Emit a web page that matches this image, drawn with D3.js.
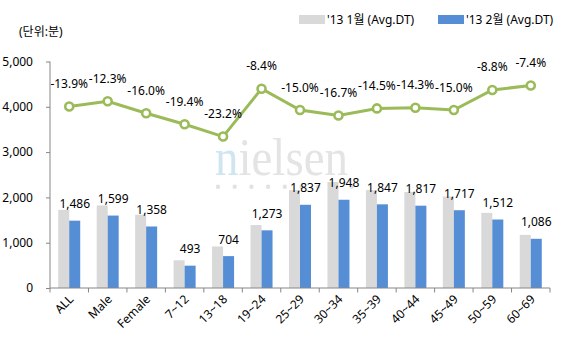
<!DOCTYPE html>
<html><head><meta charset="utf-8">
<script src="https://cdn.jsdelivr.net/npm/d3@7/dist/d3.min.js"></script>
<style>
body{margin:0;background:#fff;}
text{font-family:"Noto Sans","Noto Sans CJK KR",sans-serif;}
</style></head>
<body>
<svg id="c" width="561" height="352"></svg>
<script>
const categories = ["ALL","Male","Female","7~12","13~18","19~24","25~29","30~34","35~39","40~44","45~49","50~59","60~69"];
const jan = [1726,1823,1617,612,917,1390,2161,2339,2160,2120,2020,1658,1173];
const feb = [1486,1599,1358,493,704,1273,1837,1948,1847,1817,1717,1512,1086];
const pct = [-13.9,-12.3,-16.0,-19.4,-23.2,-8.4,-15.0,-16.7,-14.5,-14.3,-15.0,-8.8,-7.4];
const yTicks = [0,1000,2000,3000,4000,5000];
const seriesNames = ["'13 1월 (Avg.DT)","'13 2월 (Avg.DT)"];
const unitLabel = "(단위:분)";

const svg = d3.select("#c");
const x = d3.scaleBand().domain(categories).range([50,550]).padding(0);
const y = d3.scaleLinear().domain([0,5000]).range([288,61.5]);
const y2 = d3.scaleLinear().domain([-70,0]).range([288,61.5]);
const bw = 11;
const axisCol = "#868686";
const pctFmt = v => (v<0?"-":"") + d3.format(".1f")(Math.abs(v)) + "%";

// watermark
const wm = svg.append("g");
wm.append("text").attr("x",215).attr("y",175).attr("font-size",52)
  .style("font-family","'Liberation Serif','DejaVu Serif',serif")
  .attr("textLength",133).attr("lengthAdjust","spacingAndGlyphs")
  .html('<tspan fill="#cfe6f2">n</tspan><tspan fill="#e4e4e4">ielsen</tspan>');
wm.selectAll("circle").data(d3.range(9)).join("circle")
  .attr("cx",d=>218+d*16.7).attr("cy",186.7).attr("r",2.2).attr("fill","#e2e2e2");

// bars
svg.append("g").selectAll("rect").data(categories).join("rect")
  .attr("x",d=>x(d)+x.bandwidth()/2-bw).attr("width",bw)
  .attr("y",(d,i)=>y(jan[i])).attr("height",(d,i)=>y(0)-y(jan[i]))
  .attr("fill","#d9d9d9");
svg.append("g").selectAll("rect").data(categories).join("rect")
  .attr("x",d=>x(d)+x.bandwidth()/2).attr("width",bw)
  .attr("y",(d,i)=>y(feb[i])).attr("height",(d,i)=>y(0)-y(feb[i]))
  .attr("fill","#558ed5");

// bar labels
svg.append("g").selectAll("text").data(categories).join("text")
  .attr("x",d=>x(d)+x.bandwidth()/2+bw/2).attr("y",(d,i)=>y(feb[i])-12.5)
  .attr("text-anchor","middle").attr("font-size",12).attr("fill","#000")
  .text((d,i)=>d3.format(",")(feb[i]));

// y axis
const ya = svg.append("g").attr("transform","translate(50,0)")
  .call(d3.axisLeft(y).tickValues(yTicks).tickFormat(d3.format(",")).tickSize(4).tickPadding(13));
ya.select(".domain").attr("stroke",axisCol).attr("d","M0,61.5V288");
ya.selectAll(".tick line").attr("stroke",axisCol);
ya.selectAll(".tick text").attr("font-size",12).attr("fill","#000").style("font-family",'"Noto Sans",sans-serif');

// x axis
const xa = svg.append("g");
xa.append("line").attr("x1",50).attr("x2",550).attr("y1",288).attr("y2",288).attr("stroke",axisCol);
xa.selectAll("line.t").data(d3.range(categories.length+1)).join("line").attr("class","t")
  .attr("x1",d=>50+d*x.step()).attr("x2",d=>50+d*x.step()).attr("y1",288).attr("y2",292.5).attr("stroke",axisCol);
xa.selectAll("text").data(categories).join("text")
  .attr("transform",d=>`translate(${x(d)+x.bandwidth()/2+2},297) rotate(-45)`)
  .attr("text-anchor","end").attr("dy","0.35em").attr("font-size",12).attr("fill","#000").text(d=>d);

// line
const line = d3.line().x(d=>x(d.c)+x.bandwidth()/2).y(d=>y2(d.v));
const pts = categories.map((c,i)=>({c,v:pct[i]}));
svg.append("path").datum(pts).attr("d",line).attr("fill","none").attr("stroke","#9bbb59").attr("stroke-width",3);
svg.append("g").selectAll("circle").data(pts).join("circle")
  .attr("cx",d=>x(d.c)+x.bandwidth()/2).attr("cy",d=>y2(d.v)).attr("r",4)
  .attr("fill","#fff").attr("stroke","#9bbb59").attr("stroke-width",2.6);
svg.append("g").selectAll("text").data(pts).join("text")
  .attr("x",d=>x(d.c)+x.bandwidth()/2).attr("y",d=>y2(d.v)-18.5)
  .attr("text-anchor","middle").attr("font-size",12).attr("fill","#000")
  .text(d=>pctFmt(d.v));

// unit label
svg.append("text").attr("x",19).attr("y",36).attr("font-size",12).attr("fill","#000").text(unitLabel);

// legend
const lg = svg.append("g");
[["#d9d9d9",299],["#558ed5",438]].forEach(([col,lx],i)=>{
  lg.append("rect").attr("x",lx).attr("y",15).attr("width",26).attr("height",9).attr("fill",col);
  lg.append("text").attr("x",lx+28).attr("y",24).attr("font-size",12).attr("fill","#000").text(seriesNames[i]);
});
</script>
</body></html>
